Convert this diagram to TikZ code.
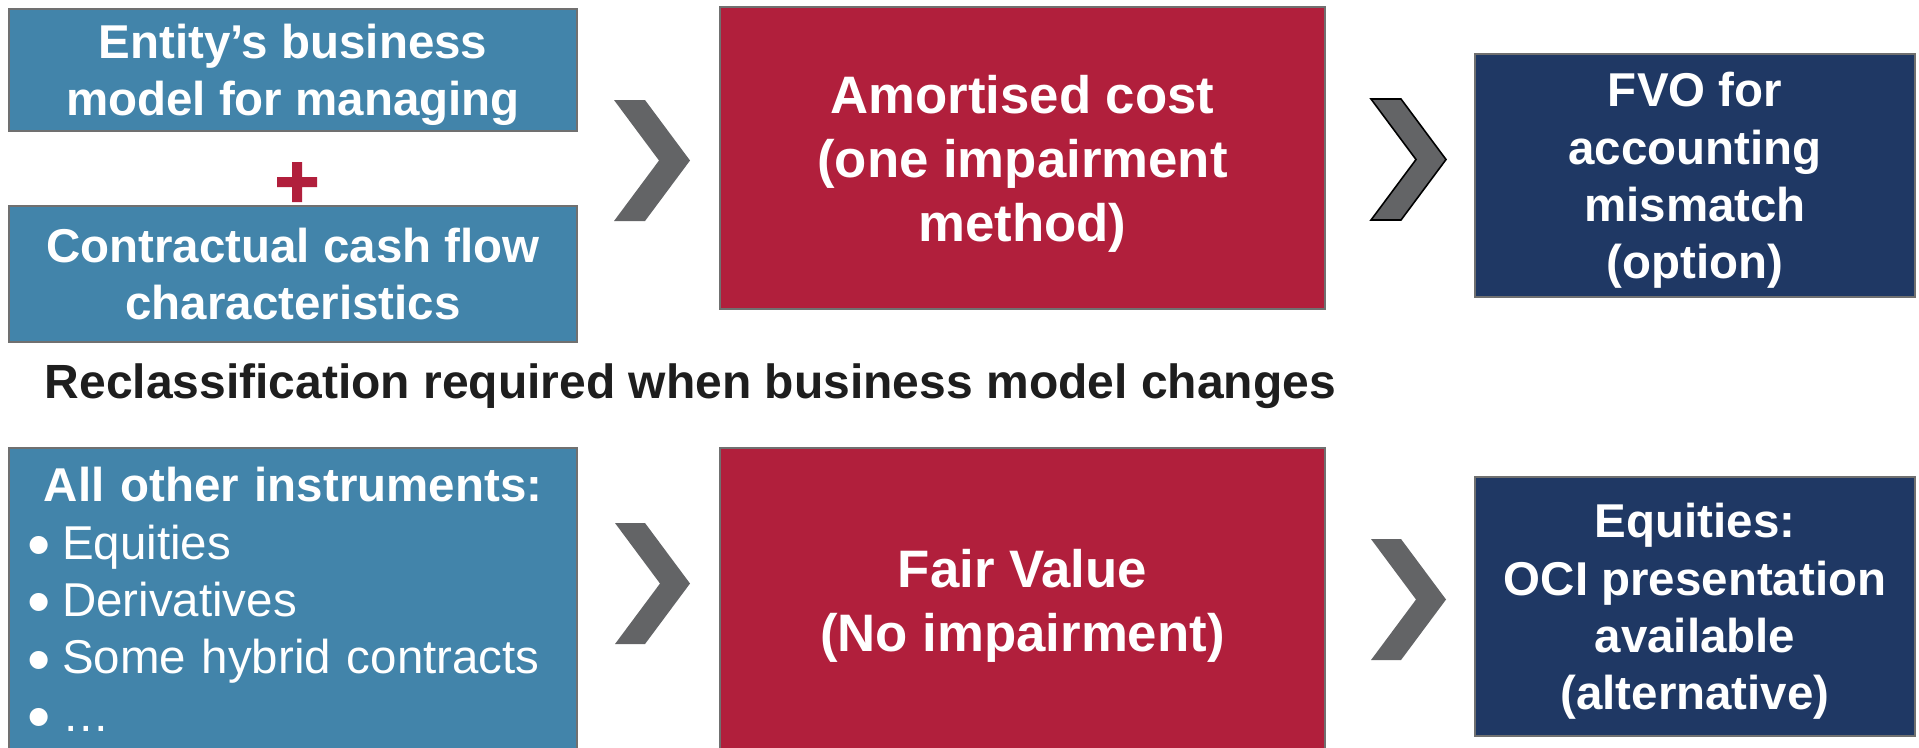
\documentclass[tikz,border=0pt]{standalone}
\usepackage{fontspec}
\setmainfont{Liberation Sans}
\definecolor{modelblue}{HTML}{4284AA}
\definecolor{costred}{HTML}{B11F3C}
\definecolor{optnavy}{HTML}{1F3864}
\definecolor{chevgray}{HTML}{636466}
\definecolor{boxline}{HTML}{707070}
\definecolor{headline}{HTML}{1E1E1E}
\newcommand{\listdot}{\raisebox{-0.17em}{\scalebox{1.4}{\textbullet}}\hspace{0.23em}}

\begin{document}
\begin{tikzpicture}[x=0.01cm, y=-0.01cm,
  box/.style={draw=boxline, line width=0.6pt, inner sep=0pt, align=center, text=white,
    text depth=0pt, font=\bfseries\fontsize{13.5}{16.3}\selectfont},
  modelbox/.style={box, fill=modelblue, minimum width=5.68cm},
  costbox/.style={box, fill=costred, minimum width=6.05cm, font=\bfseries\fontsize{15}{18.2}\selectfont},
  optbox/.style={box, fill=optnavy, minimum width=4.40cm},
  chev/.style={fill=chevgray}]
\useasboundingbox (0,0) rectangle (1919,747);
\fill[white] (0,0) rectangle (1919,747);

% top row: amortised cost
\node[modelbox, minimum height=1.22cm] (bizmodel) at (293,70) {Entity’s business\\model for managing};
\fill[costred] (277,177) rectangle (317,187) (292,162) rectangle (302,202);
\node[modelbox, minimum height=1.36cm] (cashflow) at (293,274) {Contractual cash flow\\characteristics};
\node[costbox, minimum height=3.02cm] (amcost) at (1022.5,158) {Amortised cost\\(one impairment\\method)};
\node[optbox, minimum height=2.43cm] (fvo) at (1695,175.5) {FVO for\\accounting\\mismatch\\(option)};
\fill[chev] (614,100) -- ++(31,0) -- ++(45,60.5) -- ++(-45,60.5) -- ++(-31,0) -- ++(45,-60.5) -- cycle;
\filldraw[chev, draw=black, line width=0.45pt] (1371,99) -- ++(30,0) -- ++(45,60.5) -- ++(-45,60.5) -- ++(-30,0) -- ++(45,-60.5) -- cycle;

\node[anchor=base west, inner sep=0pt, text=headline, font=\bfseries\fontsize{13.65}{16.3}\selectfont] (reclass) at (44,398)
  {Reclassification required when business model changes};

% bottom row: fair value
\node[modelbox, minimum height=3.04cm, text width=5.30cm, align=left, text height=0.34cm, text depth=2.30cm,
  font=\fontsize{13.5}{16.3}\selectfont] (others) at (293,600)
  {{\centering\bfseries All other instruments:\par}
   \listdot Equities\\
   \listdot Derivatives\\
   \listdot Some hybrid contracts\\
   \listdot …};
\node[costbox, minimum height=3.04cm] (fairval) at (1022.5,600) {Fair Value\\(No impairment)};
\node[optbox, minimum height=2.59cm] (ociopt) at (1695,606.5) {Equities:\\OCI presentation\\available\\(alternative)};
\fill[chev] (615,523) -- ++(30,0) -- ++(45,60.5) -- ++(-45,60.5) -- ++(-30,0) -- ++(45,-60.5) -- cycle;
\fill[chev] (1371,539) -- ++(30,0) -- ++(45,60.5) -- ++(-45,60.5) -- ++(-30,0) -- ++(45,-60.5) -- cycle;
\end{tikzpicture}
\end{document}
